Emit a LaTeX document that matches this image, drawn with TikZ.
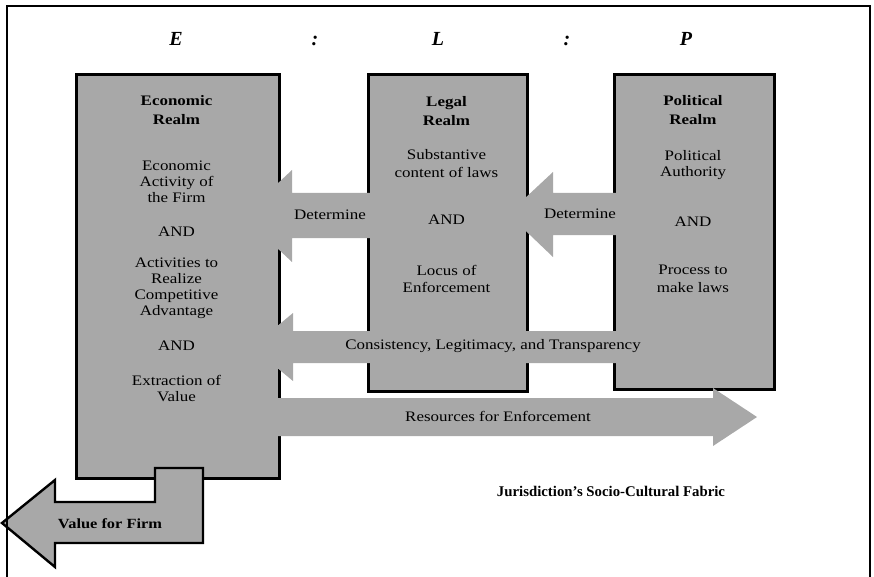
\documentclass[tikz,border=0pt]{standalone}
\usepackage{fontspec}
\setmainfont{Liberation Serif}
\newfontfamily\boxfont[FakeStretch=1.17]{Liberation Serif}
\definecolor{fillgray}{RGB}{168,168,168}
\begin{document}
\begin{tikzpicture}[x=1pt,y=-1pt,
  realm/.style={draw=black,line width=2.6pt,fill=fillgray,inner sep=0pt,anchor=north west},
  band/.style={fill=fillgray,draw=none},
  body/.style={font=\boxfont\fontsize{14.5}{16}\selectfont,align=center,inner sep=0pt},
  ttl/.style={font=\boxfont\bfseries\fontsize{14.5}{19}\selectfont,align=center,inner sep=0pt},
  hdr/.style={font=\fontsize{20}{24}\selectfont\bfseries\itshape,anchor=base,inner sep=0pt}]
\useasboundingbox (0,0) rectangle (874,577);

% realms
\node[realm,minimum width=203pt,minimum height=404pt] (econ) at (75,73) {};
\node[realm,minimum width=159pt,minimum height=317pt] (legal) at (367,73) {};
\node[realm,minimum width=160pt,minimum height=315pt] (pol) at (613,73) {};

% arrows (bands)
\fill[band] (243,216) -- (292,170) -- (292,193) -- (380,193) -- (380,238) -- (292,238) -- (292,262) -- cycle;
\fill[band] (508,214) -- (553,172) -- (553,193) -- (640,193) -- (640,235) -- (553,235) -- (553,257) -- cycle;
\fill[band] (252,347) -- (293,313) -- (293,331) -- (771,331) -- (771,363) -- (293,363) -- (293,381) -- cycle;
\fill[band] (240,398) -- (713,398) -- (713,388) -- (757,417) -- (713,446) -- (713,436) -- (240,436) -- cycle;

% value for firm arrow
\draw[line width=2.4pt,fill=fillgray,line join=miter] (2,523) -- (55,480) -- (55,502) -- (155,502) -- (155,468) -- (203,468) -- (203,543) -- (55,543) -- (55,567) -- cycle;

% header
\node[hdr] (hE) at (176,46) {E};
\node[hdr] (hc1) at (315,46) {:};
\node[hdr] (hL) at (438,46) {L};
\node[hdr] (hc2) at (567,46) {:};
\node[hdr] (hP) at (686,46) {P};

% economic texts
\node[ttl] (econT) at (176.5,110) {Economic\\Realm};
\node[body] (econA) at (176.5,182) {Economic\\Activity of\\the Firm};
\node[body] (econAnd1) at (176.5,232) {AND};
\node[body] (econB) at (176.5,288) {Activities to\\Realize\\Competitive\\Advantage};
\node[body] (econAnd2) at (176.5,346) {AND};
\node[body] (econC) at (176.5,389) {Extraction of\\Value};

% legal texts
\node[ttl] (legT) at (446.5,111) {Legal\\Realm};
\node[body,font=\boxfont\fontsize{14.5}{18}\selectfont] (legA) at (446.5,164) {Substantive\\content of laws};
\node[body] (legAnd) at (446.5,220) {AND};
\node[body,font=\boxfont\fontsize{14.5}{17}\selectfont] (legB) at (446.5,278.5) {Locus of\\Enforcement};

% political texts
\node[ttl] (polT) at (693,110) {Political\\Realm};
\node[body] (polA) at (693,165) {Political\\Authority};
\node[body] (polAnd) at (693,222) {AND};
\node[body,font=\boxfont\fontsize{14.5}{18}\selectfont] (polB) at (693,279) {Process to\\make laws};

% arrow labels
\node[body] (det1) at (330,215) {Determine};
\node[body] (det2) at (580,214) {Determine};
\node[body] (cons) at (493,346) {Consistency, Legitimacy, and Transparency};
\node[body] (res) at (498,416) {Resources for Enforcement};
\node[body,font=\boxfont\bfseries\fontsize{14}{16}\selectfont] (val) at (110,524) {Value for Firm};
\node[font=\bfseries\fontsize{14.8}{17}\selectfont,inner sep=0pt] (jur) at (611,491) {Jurisdiction's Socio-Cultural Fabric};

% frame
\coordinate (fbl) at (7,582);
\coordinate (ftl) at (7,6);
\coordinate (ftr) at (870,6);
\coordinate (fbr) at (870,582);
\draw[line width=2.6pt,line join=miter] (fbl) -- (ftl) -- (ftr) -- (fbr);
\end{tikzpicture}
\end{document}
